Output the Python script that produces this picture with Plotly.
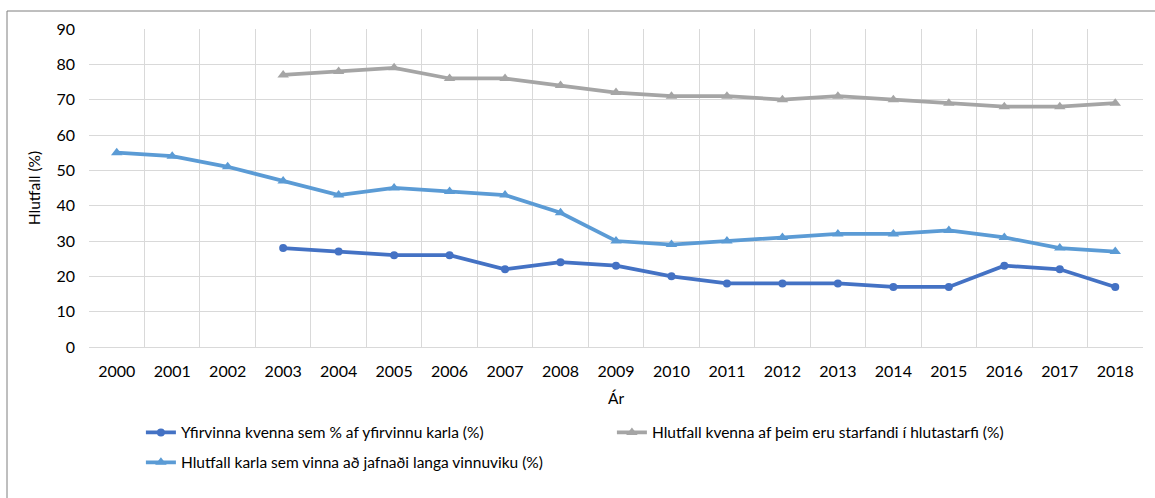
import plotly.graph_objects as go

years = [str(y) for y in range(2000, 2019)]
yfirvinna = [None, None, None, 28, 27, 26, 26, 22, 24, 23, 20, 18, 18, 18, 17, 17, 23, 22, 17]
hlutastarf = [None, None, None, 77, 78, 79, 76, 76, 74, 72, 71, 71, 70, 71, 70, 69, 68, 68, 69]
langa_vika = [55, 54, 51, 47, 43, 45, 44, 43, 38, 30, 29, 30, 31, 32, 32, 33, 31, 28, 27]

names = [
    "Yfirvinna kvenna sem % af yfirvinnu karla (%)",
    "Hlutfall kvenna af þeim eru starfandi í hlutastarfi (%)",
    "Hlutfall karla sem vinna að jafnaði langa vinnuviku (%)",
]

FONT = "Lato"
W, H = 1155, 498
L, R, T, B = 89, 12, 29, 151

fig = go.Figure()
fig.add_trace(go.Scatter(x=years, y=yfirvinna, name=names[0], mode="lines+markers",
                         line=dict(color="#4472C4", width=3.75),
                         marker=dict(symbol="circle", size=8, color="#4472C4"),
                         legend="legend"))
fig.add_trace(go.Scatter(x=years, y=hlutastarf, name=names[1], mode="lines+markers",
                         line=dict(color="#A5A5A5", width=3.75),
                         marker=dict(symbol="triangle-up", size=10, color="#A5A5A5"),
                         legend="legend"))
fig.add_trace(go.Scatter(x=years, y=langa_vika, name=names[2], mode="lines+markers",
                         line=dict(color="#5B9BD5", width=3.75),
                         marker=dict(symbol="triangle-up", size=10, color="#5B9BD5"),
                         legend="legend2"))

pw = W - L - R
ph = H - T - B
def px_x(p):
    return (p - L) / pw
def px_y(p):
    return (H - B - p) / ph

fig.add_shape(type="rect", xref="paper", yref="paper",
              x0=px_x(7), x1=px_x(1170), y0=px_y(510), y1=px_y(11),
              line=dict(color="#7F7F7F", width=1), fillcolor="rgba(0,0,0,0)", layer="below")

legend_common = dict(orientation="h", xref="container", yref="container",
                     xanchor="left", yanchor="top",
                     entrywidth=426, entrywidthmode="pixels",
                     itemwidth=30,
                     font=dict(family=FONT, size=15.5, color="#000000"),
                     bgcolor="rgba(0,0,0,0)")

fig.update_layout(
    width=W, height=H,
    margin=dict(l=L, r=R, t=T, b=B, autoexpand=False),
    plot_bgcolor="white", paper_bgcolor="white",
    font=dict(family=FONT, size=16, color="#000000"),
    showlegend=True,
    legend=dict(x=0.122, y=0.165, **legend_common),
    legend2=dict(x=0.122, y=0.105, **legend_common),
    xaxis=dict(type="category", tickson="boundaries", showgrid=True,
               gridcolor="#D9D9D9", gridwidth=1, ticks="", showline=False,
               zeroline=False, ticklabelstandoff=13, automargin=False,
               title=dict(text="Ár", standoff=14, font=dict(size=15.5)),
               range=[-0.5, 18.5]),
    yaxis=dict(range=[0, 90], dtick=10, showgrid=True, gridcolor="#D9D9D9",
               gridwidth=1, zeroline=True, zerolinecolor="#D9D9D9", zerolinewidth=1,
               ticks="", ticklabelstandoff=13, automargin=False,
               title=dict(text="Hlutfall (%)", standoff=12, font=dict(size=15.5))),
)

fig.write_html("out.html")
